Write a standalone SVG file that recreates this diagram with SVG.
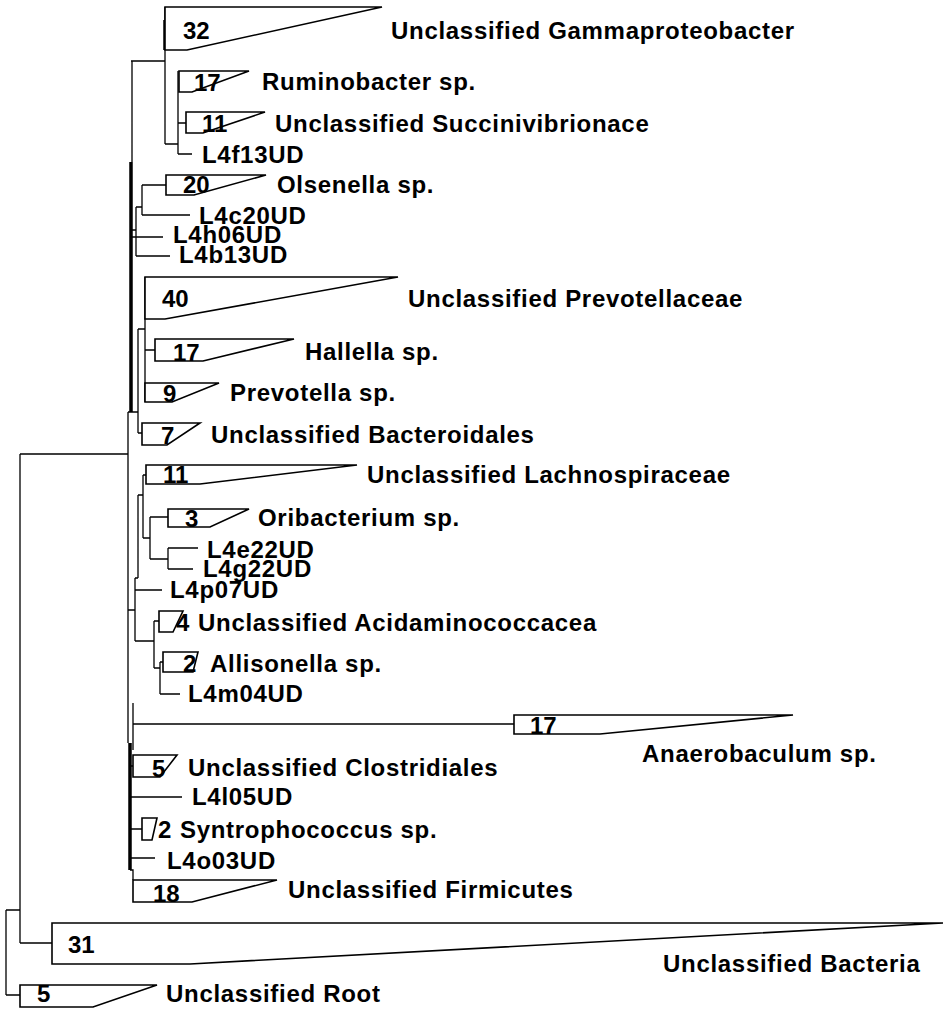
<svg xmlns="http://www.w3.org/2000/svg" width="948" height="1009" viewBox="0 0 948 1009">
<style>
.b{fill:none;stroke:#000;stroke-width:1.3}
.k{fill:none;stroke:#000;stroke-width:3.5}
.t{fill:#fff;stroke:#000;stroke-width:1.6;stroke-linejoin:miter}
text{font-family:"Liberation Sans",Arial,sans-serif;font-weight:bold;font-size:24px;fill:#000;letter-spacing:0.7px}
.n{letter-spacing:0}
</style>
<rect width="948" height="1009" fill="#fff"/>
<g id="connectors">
<path class="b" d="M6,910V995M6,910H20M6,995H20M20,454V943M20,943H52M20,454H128"/>
<path class="b" d="M132,61V162M128,412V743M131,61H165M165,7V144M165,144H178M178,71V154M178,123H186M178,154H192"/>
<path class="k" d="M131,162V412M130,743V870M165,20V50"/>
<path class="b" d="M142,185V215M142,185H166M142,215H190M136,207H142M136,207V256M131,230H136M131,237H163M136,256H170"/>
<path class="b" d="M145,277V402M145,350H155M138,329H145M138,329V433M138,433H142M128,412H138"/>
<path class="b" d="M143,475V538M143,475H146M143,538H150M150,517V559M150,517H168M150,559H168M168,548V569M168,548H198M168,569H193M138,495H143M138,495V578M135,578H138M135,578V641M135,590H162M135,641H154M128,610H135"/>
<path class="b" d="M154,621V668M154,621H159M154,668H160M160,662V694M160,662H163M160,694H180"/>
<path class="b" d="M133,703V750M133,724H514M130,766H133M130,797H182M130,829H142M130,858H155M130,870H133V880"/>
</g>
<g id="gammaproteobacter"><polygon class="t" points="165,7 382,7 187,50 165,50"/><text class="n" x="183" y="39">32</text><text x="391" y="39">Unclassified Gammaproteobacter</text></g>
<g id="ruminobacter"><polygon class="t" points="179,71 249,71 192,92 179,92"/><text class="n" x="194" y="91">17</text><text x="262" y="90">Ruminobacter sp.</text></g>
<g id="succinivibrionace"><polygon class="t" points="186,112 265,112 203,133 186,133"/><text class="n" x="202" y="132">11</text><text x="275" y="132">Unclassified Succinivibrionace</text></g>
<g id="L4f13UD"><text x="202" y="163">L4f13UD</text></g>
<g id="olsenella"><polygon class="t" points="166,175 266,175 194,195 166,195"/><text class="n" x="183" y="193">20</text><text x="277" y="193">Olsenella sp.</text></g>
<g id="L4c20UD"><text x="199" y="224">L4c20UD</text></g>
<g id="L4h06UD"><text x="173" y="243">L4h06UD</text></g>
<g id="L4b13UD"><text x="179" y="263">L4b13UD</text></g>
<g id="prevotellaceae"><polygon class="t" points="145,277 398,277 165,319 145,319"/><text class="n" x="162" y="307">40</text><text x="408" y="307">Unclassified Prevotellaceae</text></g>
<g id="hallella"><polygon class="t" points="155,339 294,339 203,361 155,361"/><text class="n" x="173" y="361">17</text><text x="305" y="360">Hallella sp.</text></g>
<g id="prevotella"><polygon class="t" points="145,383 219,383 172,402 145,402"/><text class="n" x="163" y="402">9</text><text x="230" y="401">Prevotella sp.</text></g>
<g id="bacteroidales"><polygon class="t" points="142,423 200,423 167,445 142,445"/><text class="n" x="161" y="444">7</text><text x="211" y="443">Unclassified Bacteroidales</text></g>
<g id="lachnospiraceae"><polygon class="t" points="146,465 357,465 200,484 146,484"/><text class="n" x="163" y="483">11</text><text x="367" y="483">Unclassified Lachnospiraceae</text></g>
<g id="oribacterium"><polygon class="t" points="168,509 249,509 210,527 168,527"/><text class="n" x="185" y="527">3</text><text x="258" y="526">Oribacterium sp.</text></g>
<g id="L4e22UD"><text x="207" y="558">L4e22UD</text></g>
<g id="L4g22UD"><text x="203" y="577">L4g22UD</text></g>
<g id="L4p07UD"><text x="170" y="598">L4p07UD</text></g>
<g id="acidaminococcacea"><polygon class="t" points="159,611 183,611 173,632 159,632"/><text class="n" x="176" y="631">4</text><text x="198" y="631">Unclassified Acidaminococcacea</text></g>
<g id="allisonella"><polygon class="t" points="163,652 198,652 193,672 163,672"/><text class="n" x="183" y="672">2</text><text x="210" y="672">Allisonella sp.</text></g>
<g id="L4m04UD"><text x="188" y="702">L4m04UD</text></g>
<g id="anaerobaculum"><polygon class="t" points="514,715 793,715 600,734 514,734"/><text class="n" x="530" y="734">17</text><text x="642" y="762">Anaerobaculum sp.</text></g>
<g id="clostridiales"><polygon class="t" points="133,755 177,755 160,777 133,777"/><text class="n" x="152" y="777">5</text><text x="188" y="776">Unclassified Clostridiales</text></g>
<g id="L4l05UD"><text x="192" y="805">L4l05UD</text></g>
<g id="syntrophococcus"><polygon class="t" points="142,818 157,818 152,840 142,840"/><text class="n" x="158" y="838">2</text><text x="180" y="838">Syntrophococcus sp.</text></g>
<g id="L4o03UD"><text x="167" y="869">L4o03UD</text></g>
<g id="firmicutes"><polygon class="t" points="133,880 277,880 192,902 133,902"/><text class="n" x="153" y="902">18</text><text x="288" y="898">Unclassified Firmicutes</text></g>
<g id="bacteria"><polygon class="t" points="52,923 943,923 190,964 52,964"/><text class="n" x="68" y="953">31</text><text x="663" y="972">Unclassified Bacteria</text></g>
<g id="root"><polygon class="t" points="20,985 157,985 93,1007 20,1007"/><text class="n" x="37" y="1002">5</text><text x="166" y="1002">Unclassified Root</text></g>
</svg>
